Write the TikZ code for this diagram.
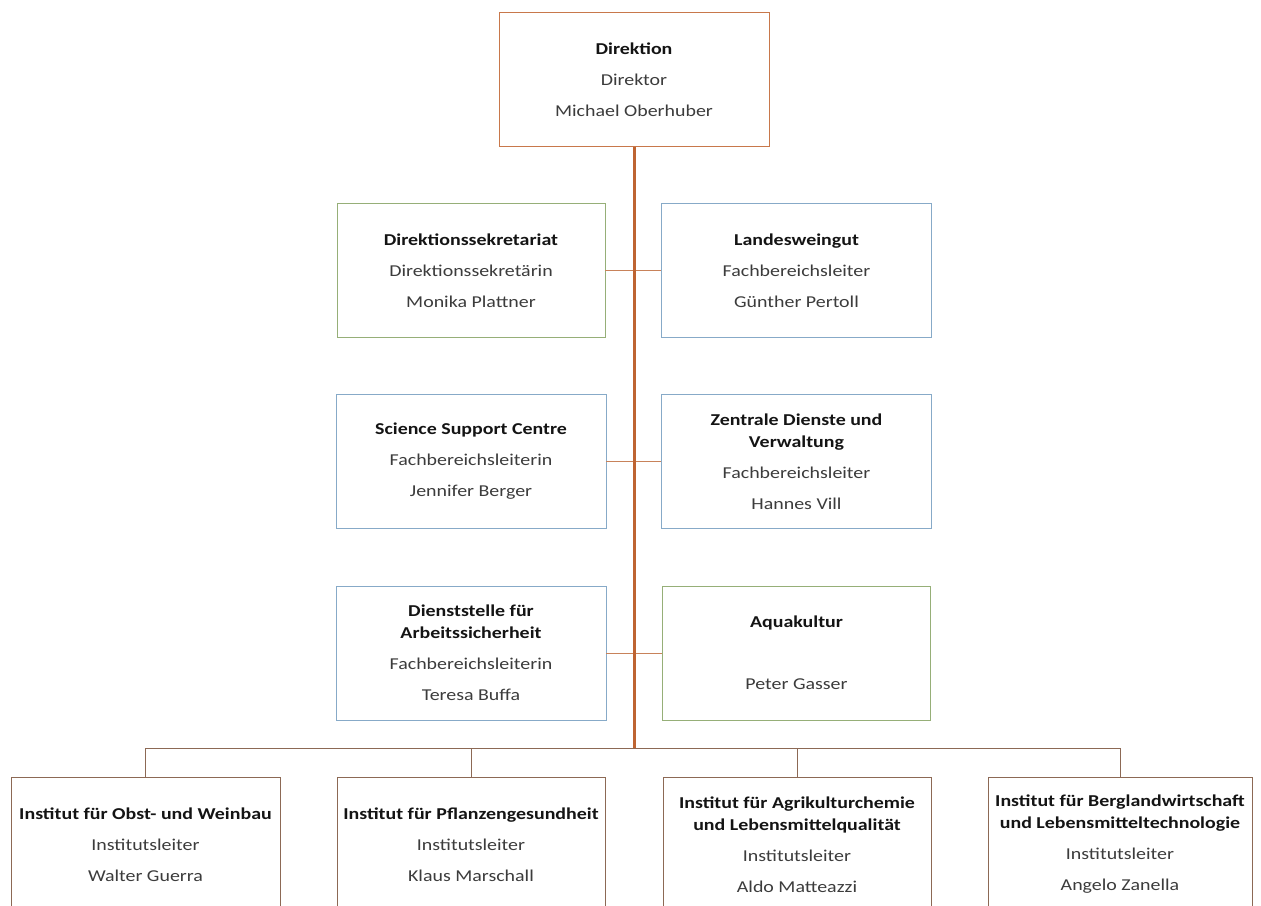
\documentclass[tikz,border=0pt]{standalone}
\usepackage{fontspec}
\setmainfont{Carlito}[FakeStretch=1.2]
\definecolor{trunkcol}{RGB}{190,100,50}
\definecolor{rowcol}{RGB}{200,130,90}
\definecolor{dircol}{RGB}{200,120,75}
\definecolor{buscol}{RGB}{140,105,85}
\definecolor{greencol}{RGB}{150,175,120}
\definecolor{bluecol}{RGB}{135,170,200}
\definecolor{titlecol}{RGB}{20,20,20}
\definecolor{txtcol}{RGB}{60,60,60}
\newcommand\orgttl[1]{\textbf{\color{titlecol}#1}}
\begin{document}
\begin{tikzpicture}[x=1pt,y=-1pt,
  orgbox/.style={draw, line width=0.9pt, fill=white, rectangle, minimum height=134pt,
    align=center, inner sep=0pt, text=txtcol,
    font=\fontsize{16.6}{22}\selectfont},
  dirbox/.style={orgbox, draw=dircol, minimum width=270pt},
  greenbox/.style={orgbox, draw=greencol, minimum width=268pt},
  bluebox/.style={orgbox, draw=bluecol, minimum width=270pt},
  instbox/.style={orgbox, draw=buscol, minimum width=268pt},
  trunkline/.style={draw=trunkcol, line width=3pt},
  rowline/.style={draw=rowcol, line width=1pt},
  busline/.style={draw=buscol, line width=1pt}]
\useasboundingbox (0,0) rectangle (1261,905);
\clip (0,0) rectangle (1261,905);
\fill[white] (0,0) rectangle (1261,905);

\node[dirbox] (dir) at (634,79.5) {\orgttl{Direktion}\\[9pt]Direktor\\[9pt]Michael Oberhuber};

\node[greenbox] (sek) at (471,270.5) {\orgttl{Direktionssekretariat}\\[9pt]Direktionssekretärin\\[9pt]Monika Plattner};
\node[bluebox] (wein) at (796.5,270.5) {\orgttl{Landesweingut}\\[9pt]Fachbereichsleiter\\[9pt]Günther Pertoll};

\node[bluebox] (ssc) at (471,461.5) {\orgttl{Science Support Centre}\\[9pt]Fachbereichsleiterin\\[9pt]Jennifer Berger};
\node[bluebox] (zen) at (796.5,461.5) {\orgttl{Zentrale Dienste und}\\\orgttl{Verwaltung}\\[9pt]Fachbereichsleiter\\[9pt]Hannes Vill};

\node[bluebox] (dien) at (471,653) {\orgttl{Dienststelle für}\\\orgttl{Arbeitssicherheit}\\[9pt]Fachbereichsleiterin\\[9pt]Teresa  Buffa};
\node[greenbox] (aqua) at (796.5,653) {\orgttl{Aquakultur}\\[9pt]\strut\\[9pt]Peter Gasser};

\node[instbox, minimum width=269pt] (b1) at (145.5,844.5) {\orgttl{Institut für Obst- und Weinbau}\\[9pt]Institutsleiter\\[9pt]Walter Guerra};
\node[instbox] (b2) at (471,844.5) {\orgttl{Institut für Pflanzengesundheit}\\[9pt]Institutsleiter\\[9pt]Klaus Marschall};
\node[instbox] (b3) at (797,844.5) {\orgttl{Institut für Agrikulturchemie}\\\orgttl{und Lebensmittelqualität}\\[9pt]Institutsleiter\\[9pt]Aldo Matteazzi};
\node[instbox, minimum width=264pt] (b4) at (1120,844.5) {\orgttl{Institut für Berglandwirtschaft}\\\orgttl{und Lebensmitteltechnologie}\\[9pt]Institutsleiter\\[9pt]Angelo Zanella};

\coordinate (busy) at (0,748);

\draw[rowline] (sek.east) -- (wein.west);
\draw[rowline] (ssc.east) -- (zen.west);
\draw[rowline] (dien.east) -- (aqua.west);

\draw[busline] (b1.north) -- (b1.north |- busy) -- (b4.north |- busy) -- (b4.north);
\draw[busline] (b2.north) -- (b2.north |- busy);
\draw[busline] (b3.north) -- (b3.north |- busy);

\draw[trunkline] (dir.south) -- (dir.south |- busy);
\end{tikzpicture}
\end{document}
